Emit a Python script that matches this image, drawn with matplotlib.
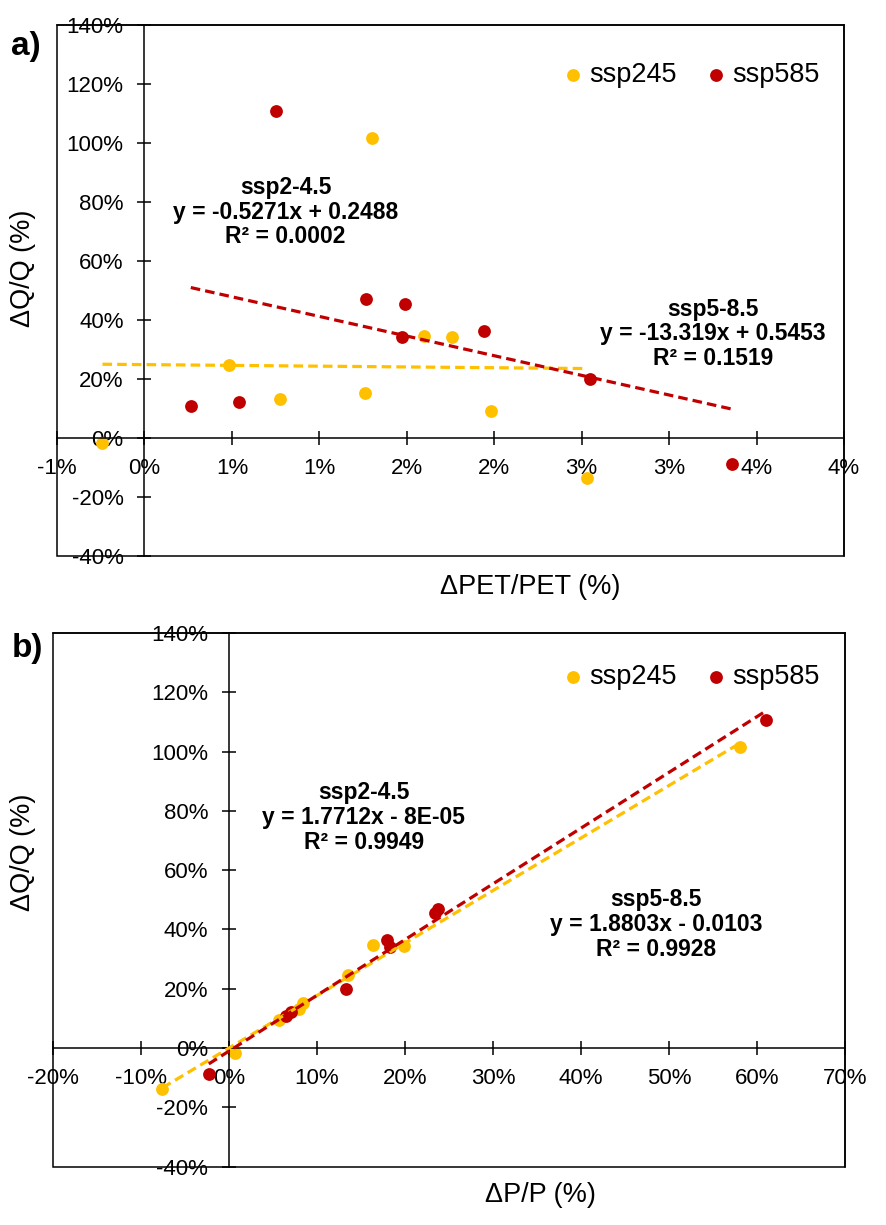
import numpy as np
import matplotlib
matplotlib.use("Agg")
import matplotlib.pyplot as plt
from matplotlib.patches import Rectangle

plt.rcParams['font.family'] = ['Liberation Sans', 'DejaVu Sans']

W, H = 886, 1225

# 数据 (读自原图, 分数形式)
q_245 = [-0.018, 0.248, 0.132, 0.151, 1.017, 0.346, 0.343, 0.093, -0.137]
pet_245 = [-0.0024, 0.00483, 0.00777, 0.0126, 0.0130, 0.0160, 0.0176, 0.0198, 0.0253]
p_245 = [0.0072, 0.135, 0.080, 0.084, 0.581, 0.164, 0.1985, 0.0568, -0.0757]

q_585 = [0.108, 0.123, 1.108, 0.470, 0.454, 0.341, 0.364, 0.200, -0.088]
pet_585 = [0.00265, 0.0054, 0.0075, 0.01265, 0.0149, 0.0147, 0.0194, 0.0255, 0.0336]
p_585 = [0.065, 0.071, 0.610, 0.238, 0.234, 0.183, 0.179, 0.133, -0.023]

# 趋势线系数 (slope, intercept, R2)
fit_a_245 = (-0.5271, 0.2488, 0.0002)
fit_a_585 = (-13.319, 0.5453, 0.1519)
fit_b_245 = (1.7712, -8e-05, 0.9949)
fit_b_585 = (1.8803, -0.0103, 0.9928)

eq_a_245 = "ssp2-4.5\ny = -0.5271x + 0.2488\nR² = 0.0002"
eq_a_585 = "ssp5-8.5\ny = -13.319x + 0.5453\nR² = 0.1519"
eq_b_245 = "ssp2-4.5\ny = 1.7712x - 8E-05\nR² = 0.9949"
eq_b_585 = "ssp5-8.5\ny = 1.8803x - 0.0103\nR² = 0.9928"

pet_ticks = np.arange(-0.005, 0.0401, 0.005)
pet_ticklabels = ['-1%', '0%', '1%', '1%', '2%', '2%', '3%', '3%', '4%', '4%']
p_ticks = np.arange(-0.2, 0.701, 0.1)
p_ticklabels = ['-20%', '-10%', '0%', '10%', '20%', '30%', '40%', '50%', '60%', '70%']
q_ticks = np.arange(-0.4, 1.401, 0.2)
q_ticklabels = ['-40%', '-20%', '0%', '20%', '40%', '60%', '80%', '100%', '120%', '140%']

C245 = '#FFC000'
C585 = '#C00000'


def fig_rect(l, t, r, b):
    return [l / W, 1 - b / H, (r - l) / W, (b - t) / H]


def draw_panel(ax, x245, x585, fit245, fit585, xlim, xticks, xticklabels,
               eq245, eq245_pos, eq585, eq585_pos):
    ax.scatter(x245, q_245, s=85, color=C245, zorder=2, label='ssp245', linewidths=0)
    ax.scatter(x585, q_585, s=85, color=C585, zorder=2, label='ssp585', linewidths=0)
    for xs, fit, c, z in [(x245, fit245, C245, 3), (x585, fit585, C585, 4)]:
        xx = np.array([np.min(xs), np.max(xs)])
        ax.plot(xx, fit[0] * xx + fit[1], color=c, lw=2.3, ls=(0, (3, 1.6)), zorder=z)

    ax.set_xlim(*xlim)
    ax.set_ylim(-0.4, 1.4)
    ax.set_xticks(xticks)
    ax.set_xticklabels(xticklabels)
    ax.set_yticks(q_ticks)
    ax.set_yticklabels(q_ticklabels)

    ax.spines['left'].set_position(('data', 0))
    ax.spines['bottom'].set_position(('data', 0))
    for s in ax.spines.values():
        s.set_linewidth(1.1)
    ax.add_patch(Rectangle((0, 0), 1, 1, transform=ax.transAxes, fill=False,
                           lw=1.1, ec='black', clip_on=False, zorder=5))
    ax.tick_params(axis='both', direction='inout', length=10, width=1.1, labelsize=16)
    ax.tick_params(axis='y', pad=10)
    ax.tick_params(axis='x', pad=9.5)

    ax.text(*eq245_pos, eq245, ha='center', va='center', fontsize=16.5,
            fontweight='bold', linespacing=1.1)
    ax.text(*eq585_pos, eq585, ha='center', va='center', fontsize=16.5,
            fontweight='bold', linespacing=1.1)


fig = plt.figure(figsize=(W / 100, H / 100), dpi=100)

ax1 = fig.add_axes(fig_rect(57, 25, 844, 556))
draw_panel(ax1, pet_245, pet_585, fit_a_245, fit_a_585, (-0.005, 0.04),
           pet_ticks, pet_ticklabels,
           eq_a_245, (0.00807, 0.766), eq_a_585, (0.0325, 0.353))

ax2 = fig.add_axes(fig_rect(53, 633, 845, 1166.6))
draw_panel(ax2, p_245, p_585, fit_b_245, fit_b_585, (-0.2, 0.7),
           p_ticks, p_ticklabels,
           eq_b_245, (0.153, 0.777), eq_b_585, (0.485, 0.416))

for ax, ly in [(ax1, 75), (ax2, 677)]:
    ax.legend(loc='center right', bbox_to_anchor=(820 / W, 1 - ly / H),
              bbox_transform=fig.transFigure, ncol=2, frameon=False,
              fontsize=19.5, handlelength=0.5, handletextpad=0.35,
              columnspacing=1.2, borderpad=0, borderaxespad=0, scatterpoints=1)

# 轴标题与面板编号
fig.text(530 / W, 1 - 587 / H, 'ΔPET/PET (%)', ha='center', va='center', fontsize=19.5)
fig.text(540 / W, 1 - 1195 / H, 'ΔP/P (%)', ha='center', va='center', fontsize=19.5)
fig.text(23 / W, 1 - 268 / H, 'ΔQ/Q (%)', ha='center', va='center', rotation=90, fontsize=19.5)
fig.text(23 / W, 1 - 852 / H, 'ΔQ/Q (%)', ha='center', va='center', rotation=90, fontsize=19.5)
fig.text(26 / W, 1 - 47 / H, 'a)', ha='center', va='center', fontsize=24, fontweight='bold')
fig.text(27 / W, 1 - 648 / H, 'b)', ha='center', va='center', fontsize=24, fontweight='bold')

fig.savefig('out.png', dpi=100)
